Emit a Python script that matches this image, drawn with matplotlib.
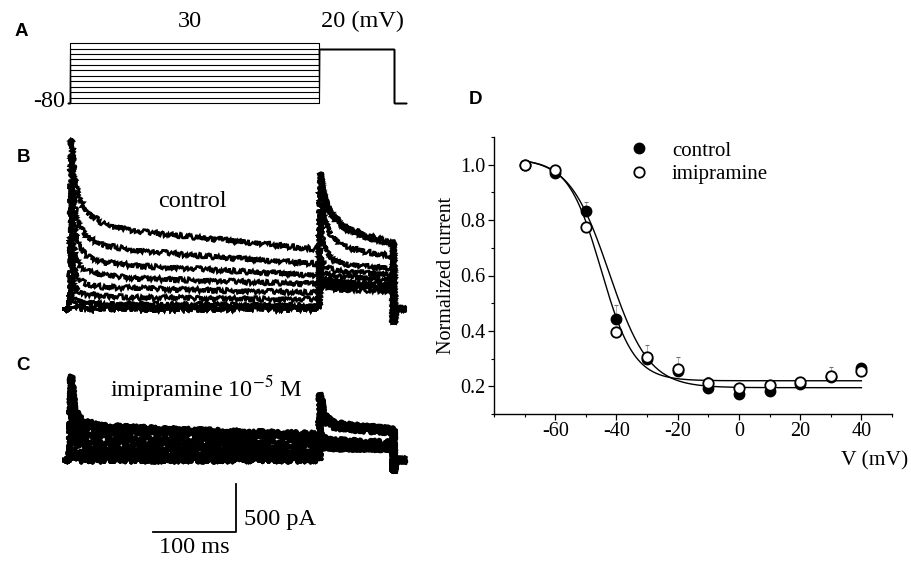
import matplotlib
matplotlib.use("Agg")
import matplotlib.pyplot as plt
import numpy as np
from matplotlib.ticker import FormatStrFormatter, MultipleLocator

plt.rcParams["font.family"] = ["Liberation Serif", "DejaVu Serif"]
plt.rcParams["mathtext.fontset"] = "stix"
plt.rcParams["axes.unicode_minus"] = False

W, H = 911, 567

# ---- panel A: voltage protocol (mV, ms) ----
PREPULSE_LEVELS = [-80, -70, -60, -50, -40, -30, -20, -10, 0, 10, 20, 30]
HOLD_MV = -80
TAIL_MV = 20
PROTOCOL_T = [-3, 0, 0, 300, 300, 390, 390, 405]

# ---- panels B/C: current traces (pA), one row per prepulse level ----
T_TEST = [1.5, 5, 10, 20, 40, 80, 150, 220, 300]
T_TAIL = [301.5, 306, 315, 330, 360, 390]
T_PRE = [-8, 0]
T_END = [392, 404]

CTRL_TEST = [
    [0, 0, 0, 0, 0, 0, 0, 0, 0],
    [0, 0, 0, 0, 0, 0, 0, 0, 0],
    [0, 0, 0, 0, 0, 0, 0, 0, 0],
    [0, 0, 0, 0, 0, 0, 0, 0, 0],
    [150, 70, 45, 35, 30, 28, 25, 22, 20],
    [280, 125, 85, 60, 55, 50, 45, 40, 35],
    [520, 260, 190, 155, 135, 120, 110, 105, 100],
    [770, 415, 310, 260, 230, 215, 200, 185, 170],
    [1040, 605, 470, 395, 350, 320, 300, 280, 260],
    [1290, 835, 655, 550, 490, 450, 420, 385, 350],
    [1560, 1090, 885, 750, 665, 610, 560, 515, 470],
    [1780, 1400, 1170, 1010, 890, 810, 750, 690, 620],
]
CTRL_TAIL = [
    [1420, 1200, 1000, 860, 760, 690],
    [1410, 1190, 990, 850, 750, 680],
    [1380, 1160, 970, 840, 740, 675],
    [1250, 950, 760, 650, 590, 550],
    [940, 640, 520, 470, 440, 420],
    [560, 460, 410, 390, 370, 355],
    [430, 380, 350, 335, 320, 305],
    [340, 310, 290, 280, 270, 260],
    [290, 270, 255, 245, 235, 225],
    [250, 230, 215, 205, 195, 185],
    [280, 255, 240, 230, 220, 210],
    [320, 290, 270, 255, 245, 235],
]
CTRL_OFF = -150

IMIP_TEST = [
    [0, 0, 0, 0, 0, 0, 0, 0, 0],
    [0, 0, 0, 0, 0, 0, 0, 0, 0],
    [0, 0, 0, 0, 0, 0, 0, 0, 0],
    [0, 0, 0, 0, 0, 0, 0, 0, 0],
    [120, 60, 45, 35, 30, 28, 25, 22, 20],
    [260, 130, 95, 80, 70, 65, 60, 55, 50],
    [400, 210, 160, 130, 115, 105, 100, 95, 85],
    [530, 300, 230, 190, 170, 160, 150, 140, 130],
    [650, 380, 300, 255, 230, 215, 200, 185, 170],
    [760, 460, 370, 320, 290, 270, 255, 240, 220],
    [840, 520, 420, 365, 330, 310, 290, 270, 250],
    [880, 560, 450, 395, 355, 335, 310, 290, 270],
]
IMIP_TAIL = [
    [690, 480, 400, 370, 345, 320],
    [685, 475, 395, 365, 340, 315],
    [670, 465, 390, 360, 335, 310],
    [540, 400, 350, 325, 305, 285],
    [285, 240, 215, 200, 190, 180],
    [220, 190, 175, 165, 155, 150],
    [185, 165, 150, 140, 135, 130],
    [160, 145, 135, 130, 125, 120],
    [145, 135, 125, 120, 118, 115],
    [150, 138, 128, 122, 118, 115],
    [160, 145, 135, 128, 122, 118],
    [175, 155, 142, 135, 128, 122],
]
IMIP_OFF = -125

# scale bar (ms, pA)
BAR_MS = 100
BAR_PA = 500
BAR_CORNER = (200, -750)

# ---- panel D: steady-state inactivation ----
V_MV = [-70, -60, -50, -40, -30, -20, -10, 0, 10, 20, 30, 40]
CONTROL_NORM = [1.0, 0.97, 0.834, 0.444, 0.30, 0.255, 0.195, 0.171, 0.182, 0.21, 0.235, 0.267]
IMIP_NORM = [1.0, 0.981, 0.774, 0.396, 0.306, 0.261, 0.213, 0.194, 0.204, 0.217, 0.237, 0.254]
CONTROL_ERR = [0.0, 0.03, 0.03, 0.05, 0.05, 0.05, 0.04, 0.02, 0.03, 0.02, 0.035, 0.016]
FIT_CONTROL = {"top": 1.025, "bottom": 0.195, "v_half": -42.4, "k": 6.5}
FIT_IMIP = {"top": 1.02, "bottom": 0.22, "v_half": -45.0, "k": 5.35}
FIT_RANGE = (-70, 40)

# ---- layout (pixels) ----
PX_PER_MS = 0.83
T0_PX = 70
T_LIM = (-10, 415)
PX_PER_PA = 0.096
PX_PER_MV = 0.545
TEXT_PT = 17.5
NOISE = (2.4, 1.0, 2.0)  # sketch: amplitude px, wiggle length, randomness


def px_axes(fig, x0, x1, y_top, y_bot):
    return fig.add_axes([x0 / W, 1 - y_bot / H, (x1 - x0) / W, (y_bot - y_top) / H])


def time_axes(fig, ref_px, ref_val, px_per_unit, lim):
    x0 = T0_PX + T_LIM[0] * PX_PER_MS
    x1 = T0_PX + T_LIM[1] * PX_PER_MS
    y_top = ref_px - (lim[1] - ref_val) * px_per_unit
    y_bot = ref_px - (lim[0] - ref_val) * px_per_unit
    ax = px_axes(fig, x0, x1, y_top, y_bot)
    ax.set_xlim(*T_LIM)
    ax.set_ylim(*lim)
    ax.axis("off")
    return ax


def draw_traces(ax, test_rows, tail_rows, off_value, lw, join):
    t = T_PRE + T_TEST + T_TAIL + [T_TAIL[-1]] + T_END
    for test, tail in zip(test_rows, tail_rows):
        y = [0, 0] + test + tail + [off_value, 0, 0]
        line, = ax.plot(t, y, color="black", lw=lw, solid_joinstyle=join)
        line.set_sketch_params(*NOISE)


def boltzmann(v, top, bottom, v_half, k):
    return bottom + (top - bottom) / (1 + np.exp((v - v_half) / k))


def panel_letter(fig, x, y, s):
    fig.text(x / W, 1 - y / H, s, family=["Liberation Sans", "DejaVu Sans"],
             weight="bold", size=13.5, ha="center", va="center")


fig = plt.figure(figsize=(W / 100, H / 100), dpi=100)

# A
ax_a = time_axes(fig, 103, HOLD_MV, PX_PER_MV, (-90, 40))
for lev in PREPULSE_LEVELS:
    ax_a.plot(PROTOCOL_T, [HOLD_MV, HOLD_MV, lev, lev, TAIL_MV, TAIL_MV, HOLD_MV, HOLD_MV],
              color="black", lw=0.8)
ax_a.text(145, 70, "30", ha="center", va="center", size=TEXT_PT)
ax_a.text(303, 70, "20 (mV)", ha="left", va="center", size=TEXT_PT)
ax_a.text(-6, -77, "-80", ha="right", va="center", size=TEXT_PT)

# B
ax_b = time_axes(fig, 309, 0, PX_PER_PA, (-200, 1900))
draw_traces(ax_b, CTRL_TEST, CTRL_TAIL, CTRL_OFF, 1.9, "miter")
ax_b.text(148, 1120, "control", ha="center", va="center", size=TEXT_PT)

# C
ax_c = time_axes(fig, 460, 0, PX_PER_PA, (-1050, 1900))
draw_traces(ax_c, IMIP_TEST, IMIP_TAIL, IMIP_OFF, 3.0, "round")
ax_c.text(164, 740, r"imipramine 10$^{-5}$ M", ha="center", va="center", size=TEXT_PT)
cx, cy = BAR_CORNER
ax_c.plot([cx - BAR_MS, cx, cx], [cy, cy, cy + BAR_PA], color="black", lw=1.3)
ax_c.text(cx + 10, cy + 0.27 * BAR_PA, "500 pA", ha="left", va="center", size=TEXT_PT)
ax_c.text(cx - BAR_MS / 2, cy - 160, "100 ms", ha="center", va="center", size=TEXT_PT)

# D
ax_d = px_axes(fig, 494, 892, 137, 414)
vv = np.linspace(*FIT_RANGE, 300)
ax_d.errorbar(V_MV, CONTROL_NORM, yerr=[np.zeros(len(V_MV)), CONTROL_ERR], fmt="none",
              ecolor="0.45", elinewidth=0.4, capsize=1.5, capthick=0.8)
ax_d.plot(vv, boltzmann(vv, **FIT_CONTROL), color="black", lw=1.0)
ax_d.plot(vv, boltzmann(vv, **FIT_IMIP), color="black", lw=1.0)
ax_d.plot(V_MV, CONTROL_NORM, "o", ms=7.5, mfc="black", mec="black", label="control")
ax_d.plot(V_MV, IMIP_NORM, "o", ms=7.5, mfc="white", mec="black", mew=1.3, label="imipramine")
ax_d.set_xlim(-80, 50)
ax_d.set_ylim(0.1, 1.1)
ax_d.set_xticks([-60, -40, -20, 0, 20, 40])
ax_d.xaxis.set_minor_locator(MultipleLocator(10))
ax_d.set_yticks([0.2, 0.4, 0.6, 0.8, 1.0])
ax_d.yaxis.set_minor_locator(MultipleLocator(0.1))
ax_d.yaxis.set_major_formatter(FormatStrFormatter("%.1f"))
for side in ("top", "right"):
    ax_d.spines[side].set_visible(False)
for side in ("left", "bottom"):
    ax_d.spines[side].set_linewidth(1.0)
ax_d.tick_params(which="major", direction="out", length=4, width=0.9, labelsize=14.5, pad=2)
ax_d.tick_params(which="minor", direction="out", length=2.5, width=0.8)
ax_d.set_ylabel("Normalized current", size=14.5, labelpad=3)
ax_d.text(1.04, -0.17, "V (mV)", transform=ax_d.transAxes, ha="right", va="center", size=15.5)
ax_d.legend(loc="upper left", bbox_to_anchor=(0.332, 0.985), frameon=False, fontsize=15,
            handlelength=1.2, handletextpad=1.0, labelspacing=0.2, borderpad=0,
            borderaxespad=0, numpoints=1)

panel_letter(fig, 21, 32, "A")
panel_letter(fig, 23, 158, "B")
panel_letter(fig, 23, 365, "C")
panel_letter(fig, 475, 100, "D")

fig.savefig("out.png", dpi=100)
